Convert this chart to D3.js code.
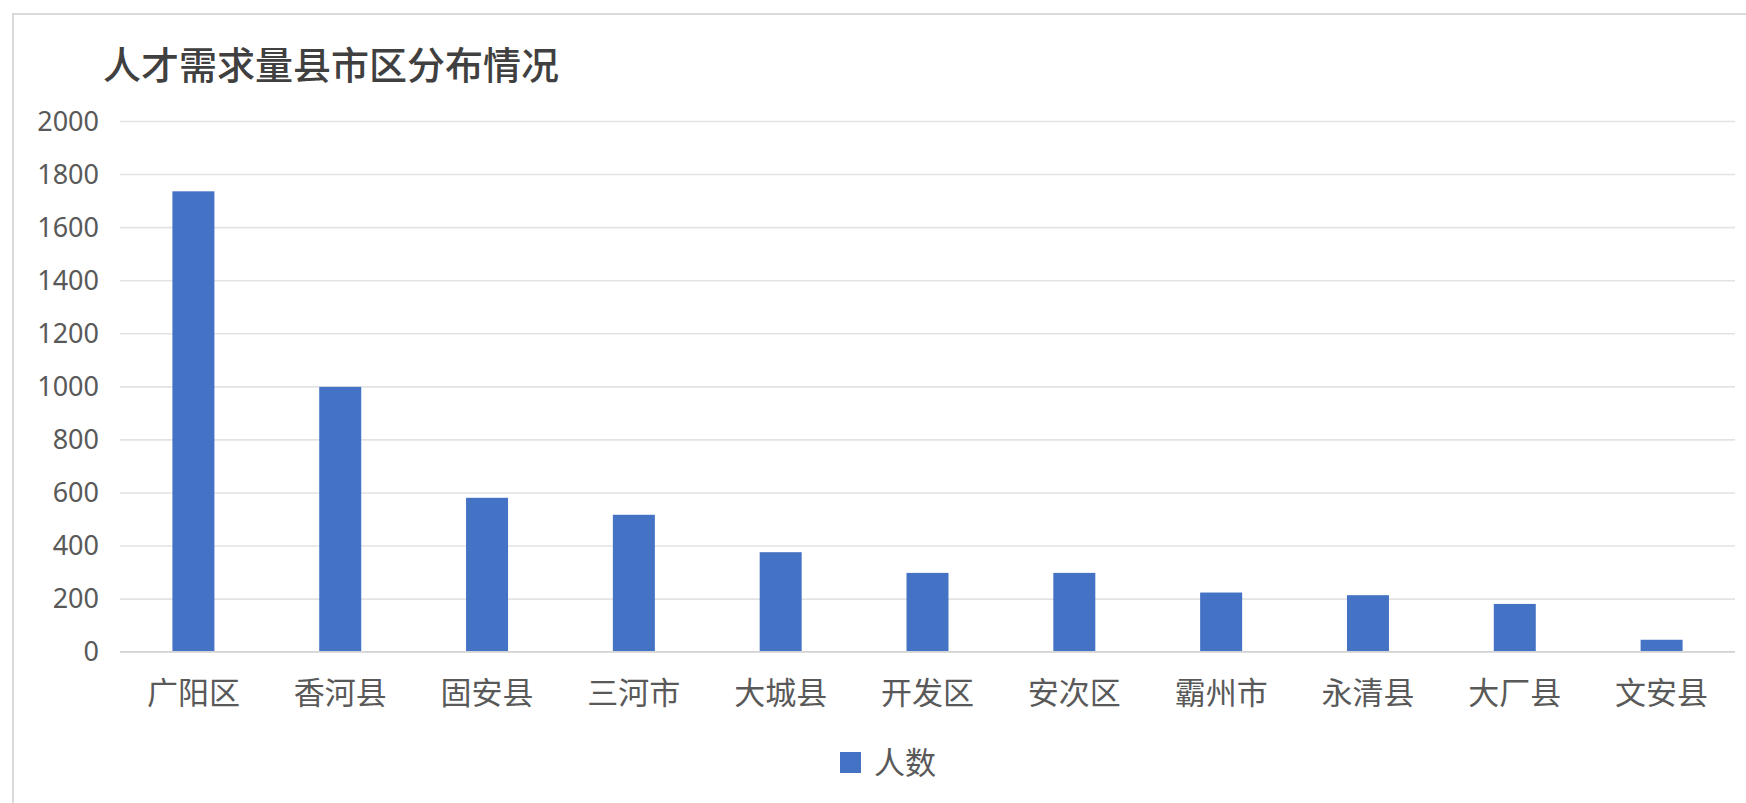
<!DOCTYPE html>
<html>
<head>
<meta charset="utf-8">
<script src="https://cdn.jsdelivr.net/npm/d3@7"></script>
<style>
  html, body { margin: 0; padding: 0; background: #fff; }
  svg { display: block; }
</style>
</head>
<body>
<div id="chart"></div>
<script>
// chart data
var categories = ["广阳区", "香河县", "固安县", "三河市", "大城县", "开发区", "安次区", "霸州市", "永清县", "大厂县", "文安县"];
var values = [1735, 998, 580, 516, 375, 297, 297, 223, 213, 180, 45];
var yTicks = [0, 200, 400, 600, 800, 1000, 1200, 1400, 1600, 1800, 2000];
var seriesName = "人数";
var chartTitle = "人才需求量县市区分布情况";

var svgWidth = 1746;
var svgHeight = 803;

var plot = { left: 120, right: 1735, top: 121, bottom: 651.7 };

var cjk = "'Noto Sans CJK SC', 'Noto Sans', sans-serif";

var svg = d3.select("#chart")
  .append("svg")
  .attr("width", svgWidth)
  .attr("height", svgHeight);

// outer chart box (runs off the right and bottom edge)
svg.append("rect")
  .attr("x", 13)
  .attr("y", 14)
  .attr("width", svgWidth + 20)
  .attr("height", svgHeight + 20)
  .attr("fill", "#fff")
  .attr("stroke", "#d9d9d9")
  .attr("stroke-width", 2);

// title
svg.append("text")
  .attr("x", 103)
  .attr("y", 79)
  .attr("font-family", cjk)
  .attr("font-size", 38)
  .attr("font-weight", 500)
  .attr("fill", "#404040")
  .text(chartTitle);

var xScale = d3.scaleBand()
  .domain(categories)
  .range([plot.left, plot.right])
  .paddingInner(0.714)
  .paddingOuter(0.357);

var yScale = d3.scaleLinear()
  .domain([0, 2000])
  .range([plot.bottom, plot.top]);

// gridlines + y labels
var yAxis = d3.axisLeft(yScale)
  .tickValues(yTicks)
  .tickFormat(d3.format("d"))
  .tickSize(-(plot.right - plot.left))
  .tickPadding(21);

var yAxisG = svg.append("g")
  .attr("transform", `translate(${plot.left},0)`)
  .call(yAxis);

yAxisG.select(".domain").remove();
yAxisG.selectAll(".tick line")
  .attr("stroke", "#e3e3e3")
  .attr("stroke-width", 1.6);
yAxisG.selectAll(".tick text")
  .attr("font-family", "'Noto Sans', 'Open Sans', sans-serif")
  .attr("font-size", 27)
  .attr("fill", "#595959")
  .attr("dy", "0.34em");

// bars
svg.append("g")
  .selectAll("rect")
  .data(values)
  .enter()
  .append("rect")
  .attr("x", (d, i) => xScale(categories[i]))
  .attr("y", d => yScale(d))
  .attr("width", xScale.bandwidth())
  .attr("height", d => yScale(0) - yScale(d))
  .attr("fill", "#4472c4");

// baseline
svg.append("line")
  .attr("x1", plot.left)
  .attr("x2", plot.right)
  .attr("y1", yScale(0))
  .attr("y2", yScale(0))
  .attr("stroke", "#d4d4d4")
  .attr("stroke-width", 1.6);

// x labels
var xAxis = d3.axisBottom(xScale).tickSize(0).tickPadding(0);
var xAxisG = svg.append("g")
  .attr("transform", `translate(0,${plot.bottom})`)
  .call(xAxis);
xAxisG.select(".domain").remove();
xAxisG.selectAll(".tick text")
  .attr("font-family", cjk)
  .attr("font-size", 31)
  .attr("fill", "#595959")
  .attr("dy", null)
  .attr("y", 52);

// legend
var legend = svg.append("g")
  .attr("transform", "translate(840,752)");
legend.append("rect")
  .attr("width", 21)
  .attr("height", 21)
  .attr("fill", "#4472c4");
legend.append("text")
  .attr("x", 34)
  .attr("y", 22)
  .attr("font-family", cjk)
  .attr("font-size", 31)
  .attr("fill", "#595959")
  .text(seriesName);
</script>
</body>
</html>
